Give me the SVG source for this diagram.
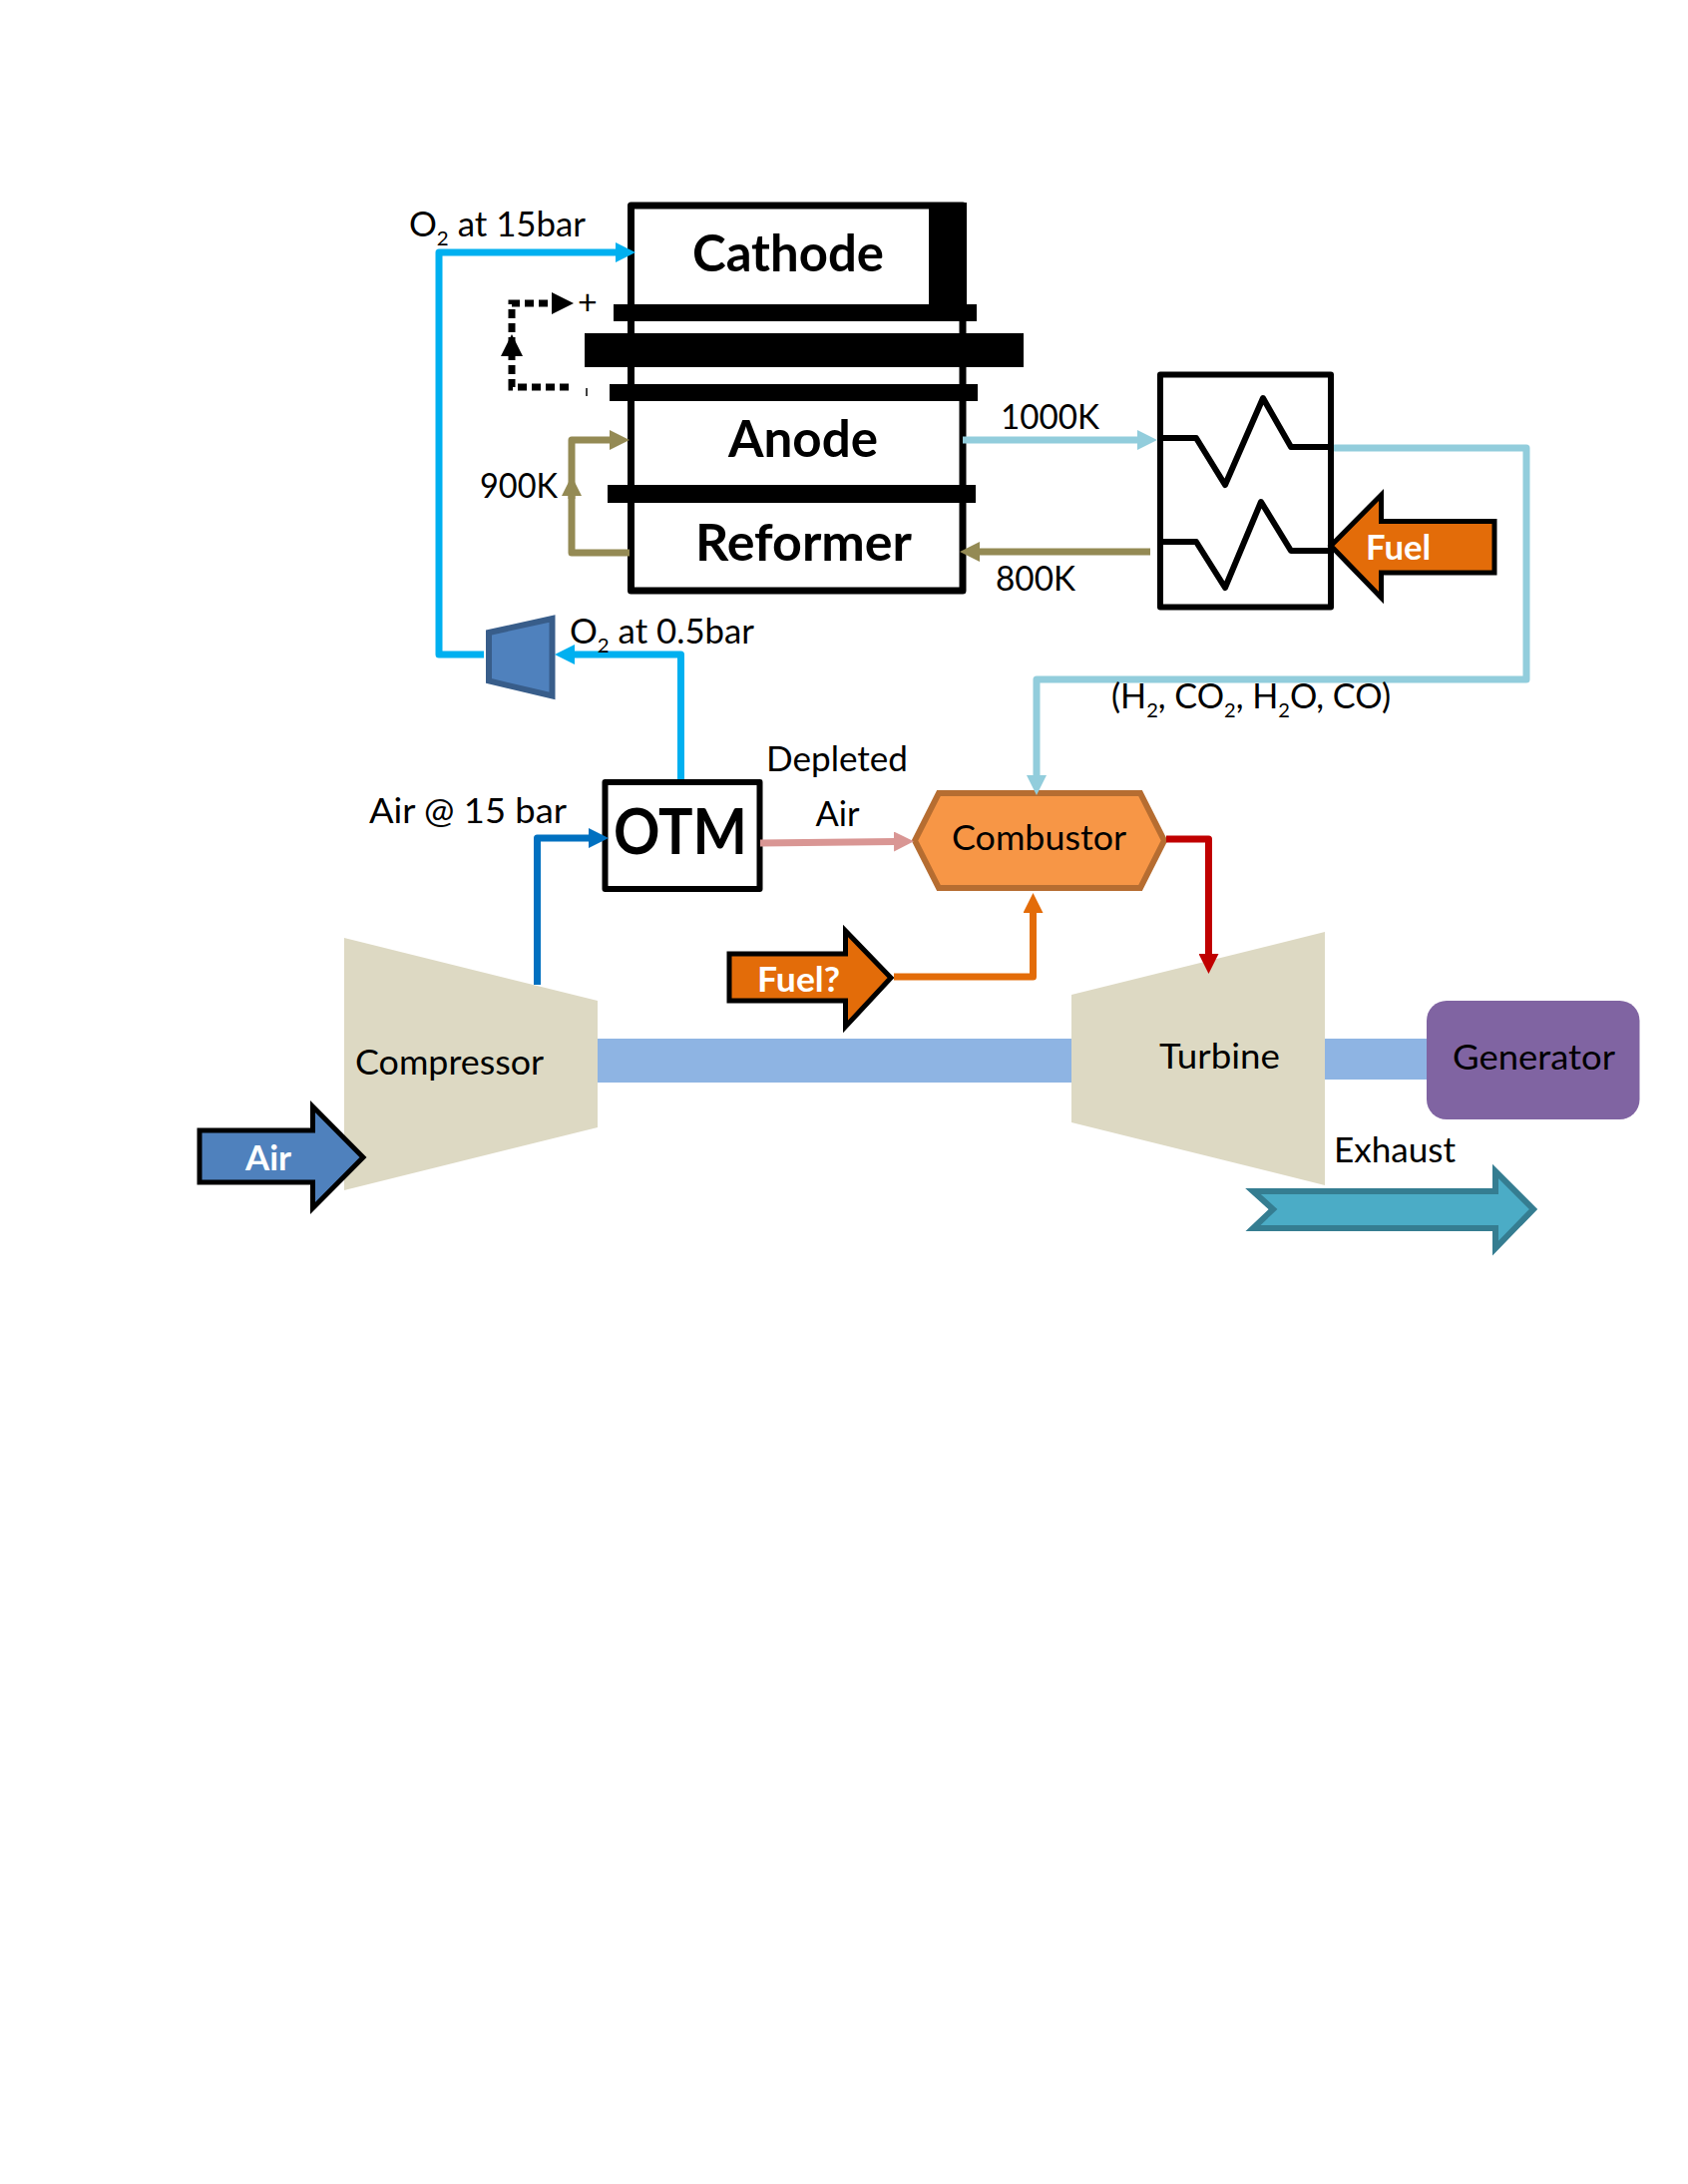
<svg xmlns="http://www.w3.org/2000/svg" width="1692" height="2189" viewBox="0 0 1692 2189">
<style>
text{font-family:Lato,"Liberation Sans",sans-serif;fill:#000}
.l{font-size:34px;}
.b{font-size:52px;font-weight:700}
.w{font-size:34px;font-weight:700;fill:#fff}
.c{fill:none;stroke-width:7;stroke-linejoin:round}
.blk{fill:#000}
.box{fill:#fff;stroke:#000;stroke-linejoin:round}
.block{fill:#ddd9c3}
.shaft{fill:#8eb4e3}
.sa{fill:#4f81bd;stroke:#000;stroke-width:5}
.sf{fill:#e36c09;stroke:#000;stroke-width:5}
.zig{fill:none;stroke:#000;stroke-width:6;stroke-linejoin:round;stroke-linecap:round}
</style>
<defs>
<marker id="mO2" markerUnits="userSpaceOnUse" markerWidth="20" markerHeight="20" refX="2" refY="10" orient="auto"><path d="M0 0L20 10L0 20Z" fill="#00b0f0"/></marker>
<marker id="mOl" markerUnits="userSpaceOnUse" markerWidth="20" markerHeight="20" refX="2" refY="10" orient="auto"><path d="M0 0L20 10L0 20Z" fill="#948a54"/></marker>
<marker id="mLb" markerUnits="userSpaceOnUse" markerWidth="20" markerHeight="20" refX="2" refY="10" orient="auto"><path d="M0 0L20 10L0 20Z" fill="#92cddc"/></marker>
<marker id="mBl" markerUnits="userSpaceOnUse" markerWidth="20" markerHeight="20" refX="2" refY="10" orient="auto"><path d="M0 0L20 10L0 20Z" fill="#0070c0"/></marker>
<marker id="mPk" markerUnits="userSpaceOnUse" markerWidth="20" markerHeight="20" refX="2" refY="10" orient="auto"><path d="M0 0L20 10L0 20Z" fill="#d99694"/></marker>
<marker id="mOr" markerUnits="userSpaceOnUse" markerWidth="20" markerHeight="20" refX="2" refY="10" orient="auto"><path d="M0 0L20 10L0 20Z" fill="#e36c09"/></marker>
<marker id="mRd" markerUnits="userSpaceOnUse" markerWidth="20" markerHeight="20" refX="2" refY="10" orient="auto"><path d="M0 0L20 10L0 20Z" fill="#c00000"/></marker>
<marker id="mBk" markerUnits="userSpaceOnUse" markerWidth="22" markerHeight="22" refX="2" refY="11" orient="auto"><path d="M0 0L22 11L0 22Z" fill="#000"/></marker>
</defs>
<rect width="1692" height="2189" fill="#fff"/>

<g id="shaft-left"><rect class="shaft" x="597" y="1041" width="482" height="44"/></g>
<g id="shaft-right"><rect class="shaft" x="1326" y="1041" width="106" height="41"/></g>

<g id="fuel-cell">
<rect class="box" x="632.500" y="206" width="332.500" height="386" stroke-width="7"/>
<rect class="blk" x="931" y="203" width="38" height="110"/>
<rect class="blk" x="615" y="305" width="364" height="17"/>
<rect class="blk" x="586" y="334" width="440" height="34"/>
<rect class="blk" x="611" y="385" width="369" height="17"/>
<rect class="blk" x="609" y="486" width="369" height="18"/>
<text class="b" x="694" y="272" textLength="192" lengthAdjust="spacingAndGlyphs">Cathode</text>
<text class="b" x="730" y="458" textLength="150" lengthAdjust="spacingAndGlyphs">Anode</text>
<text class="b" x="697" y="562" textLength="217" lengthAdjust="spacingAndGlyphs">Reformer</text>
</g>

<g id="heat-exchanger">
<rect class="box" x="1163" y="375.500" width="171" height="233" stroke-width="6"/>
<path class="zig" d="M1163 439H1199L1228 486L1266 399L1294 448H1332"/>
<path class="zig" d="M1163 543H1199L1228 589L1264 503L1294 552H1332"/>
</g>

<g id="fuel-arrow">
<path class="sf" d="M1334 547L1384.500 496V522.500H1498V574H1384.500V599Z"/>
<text class="w" x="1369" y="561" textLength="65" lengthAdjust="spacingAndGlyphs">Fuel</text>
</g>

<g id="o2-compressor">
<path d="M490 634L553.500 620V697.500L490 682.500Z" fill="#4f81bd" stroke="#385d8a" stroke-width="6" stroke-linejoin="miter"/>
</g>

<g id="otm">
<rect class="box" x="606.500" y="784" width="155" height="107" stroke-width="6"/>
<text x="615" y="856" font-size="64" font-weight="700" textLength="134" lengthAdjust="spacingAndGlyphs">OTM</text>
</g>

<g id="combustor">
<path d="M917 842.500L941 795H1143L1167 842.500L1143 890H941Z" fill="#f79646" stroke="#b66d31" stroke-width="6"/>
<text class="l" x="954" y="852" textLength="175" lengthAdjust="spacingAndGlyphs">Combustor</text>
</g>

<g id="compressor">
<path class="block" d="M345 940L599 1003V1130L345 1193Z"/>
<text class="l" x="356" y="1077" textLength="189" lengthAdjust="spacingAndGlyphs">Compressor</text>
</g>

<g id="turbine">
<path class="block" d="M1074 997L1328 934V1188L1074 1125Z"/>
<text class="l" x="1162" y="1071" textLength="121" lengthAdjust="spacingAndGlyphs">Turbine</text>
</g>

<g id="generator">
<rect x="1430" y="1003" width="213.500" height="119" rx="20" fill="#8064a2"/>
<text class="l" x="1456" y="1072" textLength="163" lengthAdjust="spacingAndGlyphs">Generator</text>
</g>

<g id="air-arrow">
<path class="sa" d="M200 1133H313.500V1109L364 1160L313.500 1211V1185H200Z"/>
<text class="w" x="246" y="1173" textLength="46" lengthAdjust="spacingAndGlyphs">Air</text>
</g>

<g id="fuel2-arrow">
<path class="sf" d="M731 956H847.500V933L893 980L847.500 1029V1003H731Z"/>
<text class="w" x="759" y="994" textLength="83" lengthAdjust="spacingAndGlyphs">Fuel?</text>
</g>

<g id="exhaust-arrow">
<path d="M1256 1194H1499V1174L1537 1212L1499 1251V1231H1256L1276 1212Z" fill="#4bacc6" stroke="#357d91" stroke-width="6"/>
</g>

<g id="connectors">
<path class="c" stroke="#00b0f0" d="M485 656H440V253H619" marker-end="url(#mO2)"/>
<path class="c" stroke="#00b0f0" d="M682.500 781V656H574" marker-end="url(#mO2)"/>
<path class="c" stroke="#948a54" d="M631 554H573V441H613" marker-end="url(#mOl)"/>
<path class="c" stroke="#948a54" d="M573 500V495" marker-end="url(#mOl)"/>
<path class="c" stroke="#948a54" d="M1153 553H980" marker-end="url(#mOl)"/>
<path class="c" stroke="#92cddc" d="M965 441H1142" marker-end="url(#mLb)"/>
<path class="c" stroke="#92cddc" d="M1337 449H1530V681H1039V779" marker-end="url(#mLb)"/>
<path class="c" stroke="#0070c0" d="M538.500 987V840H592" marker-end="url(#mBl)"/>
<path class="c" stroke="#d99694" d="M762 845L898 843.500" marker-end="url(#mPk)"/>
<path class="c" stroke="#e36c09" d="M896 979H1035.500V913" marker-end="url(#mOr)"/>
<path class="c" stroke="#c00000" d="M1169 841H1211.500V958" marker-end="url(#mRd)"/>
<path d="M570 388H513V304H555" fill="none" stroke="#000" stroke-width="7" stroke-dasharray="9 5" marker-end="url(#mBk)"/>
<path d="M513 380V355" fill="none" stroke="none" marker-end="url(#mBk)"/>
<path d="M588 389V397" stroke="#000" stroke-width="1.500"/>
</g>

<g id="labels">
<text class="l" x="410" y="237" textLength="177" lengthAdjust="spacingAndGlyphs">O<tspan font-size="20" dy="9">2</tspan><tspan dy="-9"> at 15bar</tspan></text>
<text x="579" y="315" font-size="34">+</text>
<text class="l" x="481" y="499" textLength="78" lengthAdjust="spacingAndGlyphs">900K</text>
<text class="l" x="1003" y="430" textLength="99" lengthAdjust="spacingAndGlyphs">1000K</text>
<text class="l" x="998" y="592" textLength="80" lengthAdjust="spacingAndGlyphs">800K</text>
<text class="l" x="571" y="645" textLength="185" lengthAdjust="spacingAndGlyphs">O<tspan font-size="20" dy="9">2</tspan><tspan dy="-9"> at 0.5bar</tspan></text>
<text class="l" x="1114" y="710" textLength="280" lengthAdjust="spacingAndGlyphs">(H<tspan font-size="20" dy="9">2</tspan><tspan dy="-9">, CO</tspan><tspan font-size="20" dy="9">2</tspan><tspan dy="-9">, H</tspan><tspan font-size="20" dy="9">2</tspan><tspan dy="-9">O, CO)</tspan></text>
<text class="l" x="370" y="825" textLength="198" lengthAdjust="spacingAndGlyphs">Air @ 15 bar</text>
<text class="l" x="768" y="773" textLength="142" lengthAdjust="spacingAndGlyphs">Depleted</text>
<text class="l" x="817.500" y="828" textLength="44" lengthAdjust="spacingAndGlyphs">Air</text>
<text class="l" x="1337" y="1165" textLength="122" lengthAdjust="spacingAndGlyphs">Exhaust</text>
</g>
</svg>
